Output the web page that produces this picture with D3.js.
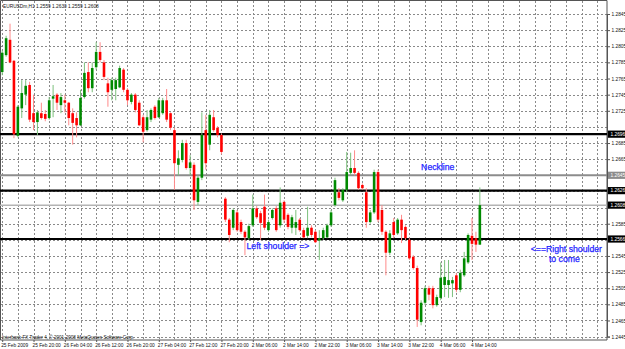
<!DOCTYPE html>
<html><head><meta charset="utf-8">
<script src="https://cdn.jsdelivr.net/npm/d3@7"></script>
<style>body{margin:0;background:#fff}svg{display:block}</style>
</head><body><svg id="c" width="625" height="349"></svg>
<script>
const symbolTitle = "EURUSDm,H1  1.2559 1.2630 1.2559 1.2608";
const copyrightText = "Interbank FX Trader 4, \u00A9 2001-2008 MetaQuotes Software Corp.";
const timeLabels = ["25 Feb 2009","25 Feb 20:00","26 Feb 04:00","26 Feb 12:00","26 Feb 20:00","27 Feb 04:00","27 Feb 12:00","27 Feb 20:00","2 Mar 06:00","2 Mar 14:00","2 Mar 22:00","3 Mar 06:00","3 Mar 14:00","3 Mar 22:00","4 Mar 06:00","4 Mar 14:00"];
const timeLabelBars = [0,8,16,24,32,40,48,56,64,72,80,88,96,104,112,120];
const priceTicks = [1.2845,1.2825,1.2805,1.2785,1.2765,1.2745,1.2725,1.2705,1.2685,1.2665,1.2645,1.2625,1.2605,1.2585,1.2565,1.2545,1.2525,1.2505,1.2485,1.2465,1.2445];
const opens = [1.2773,1.2794,1.2813,1.2787,1.2694,1.2728,1.2745,1.2757,1.2722,1.2711,
1.2722,1.2721,1.2716,1.2740,1.2745,1.2732,1.2738,1.2735,1.2722,1.2716,
1.2707,1.2742,1.2773,1.2753,1.2779,1.2798,1.2785,1.2759,1.2751,1.2752,
1.2754,1.2776,1.2751,1.2736,1.2745,1.2735,1.2717,1.2701,1.2714,1.2730,
1.2717,1.2722,1.2738,1.2722,1.2701,1.2658,1.2664,1.2685,1.2654,1.2658,
1.2612,1.2642,1.2701,1.2683,1.2717,1.2704,1.2695,1.2616,1.2590,1.2580,
1.2599,1.2587,1.2575,1.2567,1.2583,1.2604,1.2598,1.2606,1.2577,1.2592,
1.2604,1.2583,1.2612,1.2596,1.2580,1.2580,1.2590,1.2577,1.2570,1.2580,
1.2575,1.2564,1.2567,1.2568,1.2583,1.2608,1.2624,1.2614,1.2627,1.2648,
1.2654,1.2648,1.2633,1.2624,1.2587,1.2599,1.2649,1.2602,1.2575,1.2549,
1.2587,1.2573,1.2590,1.2581,1.2565,1.2544,1.2530,1.2463,1.2487,1.2505,
1.2505,1.2484,1.2493,1.2509,1.2509,1.2511,1.2521,1.2503,1.2521,1.2537,
1.2570,1.2567,1.2559];
const highs = [1.2800,1.2818,1.2833,1.2788,1.2732,1.2763,1.2763,1.2761,1.2745,1.2726,
1.2735,1.2726,1.2742,1.2757,1.2747,1.2747,1.2745,1.2736,1.2728,1.2723,
1.2751,1.2785,1.2785,1.2785,1.2810,1.2810,1.2788,1.2766,1.2766,1.2766,
1.2781,1.2778,1.2753,1.2747,1.2747,1.2738,1.2720,1.2726,1.2728,1.2732,
1.2741,1.2741,1.2752,1.2723,1.2704,1.2676,1.2689,1.2689,1.2670,1.2661,
1.2645,1.2723,1.2720,1.2726,1.2726,1.2706,1.2697,1.2618,1.2592,1.2604,
1.2602,1.2590,1.2577,1.2585,1.2621,1.2607,1.2601,1.2621,1.2590,1.2604,
1.2607,1.2630,1.2614,1.2598,1.2596,1.2602,1.2592,1.2580,1.2606,1.2583,
1.2577,1.2577,1.2580,1.2585,1.2602,1.2642,1.2629,1.2629,1.2674,1.2673,
1.2676,1.2650,1.2635,1.2629,1.2602,1.2652,1.2652,1.2608,1.2577,1.2577,
1.2592,1.2592,1.2596,1.2583,1.2567,1.2546,1.2533,1.2490,1.2508,1.2508,
1.2508,1.2497,1.2537,1.2540,1.2540,1.2519,1.2524,1.2528,1.2550,1.2573,
1.2592,1.2575,1.2630];
const lows = [1.2769,1.2792,1.2784,1.2691,1.2692,1.2716,1.2732,1.2711,1.2701,1.2695,
1.2714,1.2712,1.2714,1.2717,1.2726,1.2722,1.2723,1.2707,1.2683,1.2692,
1.2706,1.2740,1.2748,1.2748,1.2776,1.2785,1.2763,1.2730,1.2738,1.2738,
1.2753,1.2748,1.2732,1.2733,1.2723,1.2706,1.2686,1.2699,1.2711,1.2714,
1.2716,1.2720,1.2711,1.2701,1.2627,1.2645,1.2661,1.2652,1.2645,1.2602,
1.2608,1.2639,1.2652,1.2676,1.2699,1.2692,1.2671,1.2587,1.2562,1.2577,
1.2575,1.2572,1.2546,1.2565,1.2581,1.2591,1.2565,1.2577,1.2575,1.2590,
1.2575,1.2580,1.2586,1.2578,1.2573,1.2571,1.2575,1.2567,1.2567,1.2568,
1.2561,1.2540,1.2565,1.2567,1.2581,1.2606,1.2614,1.2612,1.2624,1.2645,
1.2645,1.2627,1.2627,1.2580,1.2585,1.2597,1.2587,1.2571,1.2521,1.2546,
1.2567,1.2571,1.2561,1.2565,1.2540,1.2528,1.2457,1.2459,1.2484,1.2490,
1.2480,1.2482,1.2490,1.2494,1.2493,1.2494,1.2500,1.2500,1.2519,1.2535,
1.2540,1.2550,1.2559];
const closes = [1.2797,1.2815,1.2785,1.2696,1.2730,1.2747,1.2756,1.2714,1.2711,1.2723,
1.2716,1.2715,1.2738,1.2743,1.2735,1.2742,1.2735,1.2716,1.2710,1.2707,
1.2741,1.2772,1.2753,1.2778,1.2798,1.2788,1.2767,1.2748,1.2763,1.2763,
1.2778,1.2751,1.2738,1.2745,1.2726,1.2707,1.2699,1.2717,1.2726,1.2716,
1.2738,1.2738,1.2714,1.2704,1.2660,1.2666,1.2685,1.2654,1.2661,1.2614,
1.2642,1.2695,1.2660,1.2720,1.2701,1.2695,1.2674,1.2590,1.2571,1.2602,
1.2577,1.2575,1.2568,1.2582,1.2604,1.2593,1.2586,1.2580,1.2587,1.2602,
1.2577,1.2611,1.2590,1.2581,1.2593,1.2587,1.2577,1.2568,1.2580,1.2571,
1.2562,1.2567,1.2577,1.2583,1.2599,1.2639,1.2617,1.2627,1.2649,1.2654,
1.2648,1.2629,1.2629,1.2587,1.2599,1.2649,1.2590,1.2575,1.2549,1.2573,
1.2571,1.2590,1.2577,1.2567,1.2542,1.2530,1.2466,1.2487,1.2505,1.2497,
1.2484,1.2494,1.2518,1.2519,1.2515,1.2515,1.2503,1.2524,1.2542,1.2571,
1.2560,1.2559,1.2608];
const blackLevels = [1.2696, 1.2626, 1.2566];
const grayLevels = [1.2645];
const bidLevel = 1.2608;
const notes = [
  {text: "Neckline", bar: 107, price: 1.2651, anchor: "start"},
  {text: "Left shoulder =>", bar: 62.4, price: 1.2554, anchor: "start"},
  {text: "<==Right shoulder", bar: 144.1, price: 1.2550, anchor: "middle"},
  {text: "to come", bar: 143.6, price: 1.2537, anchor: "middle"}
];

const svg = d3.select("#c");
const W = 625, H = 349, plotR = 607, plotB = 340;
const x = d3.scaleLinear().domain([0, 152]).range([2.2, 597.3]);
const y = d3.scaleLinear().domain([1.2445, 1.2845]).range([336.6, 14]);
const fmt = d3.format(".4f");
const smallFont = "Liberation Sans, Arial, sans-serif";

svg.append("rect").attr("width", W).attr("height", H).attr("fill", "#fff");

// grid
const grid = svg.append("g").attr("stroke", "#8a8a8a").attr("stroke-width", 1).attr("stroke-dasharray", "2,2");
grid.selectAll("line.h").data(priceTicks).join("line").attr("class","h")
  .attr("x1", 1).attr("x2", plotR).attr("y1", d => Math.round(y(d)) + 0.5).attr("y2", d => Math.round(y(d)) + 0.5);
grid.selectAll("line.v").data(d3.range(0, 153, 4)).join("line").attr("class","v")
  .attr("x1", d => Math.round(x(d)) + 0.5).attr("x2", d => Math.round(x(d)) + 0.5).attr("y1", 1).attr("y2", plotB);

// frame
svg.append("path").attr("d", `M0.5,${plotB}V0.5H${plotR}V${plotB}H0.5`).attr("fill","none").attr("stroke","#555").attr("stroke-width",1);

// horizontal level lines
svg.selectAll("line.gl").data(grayLevels).join("line").attr("class","gl")
  .attr("x1", 0).attr("x2", plotR).attr("y1", d => y(d)).attr("y2", d => y(d))
  .attr("stroke", "#8c8c8c").attr("stroke-width", 2);
svg.append("line").attr("x1", 0).attr("x2", plotR).attr("y1", y(bidLevel)).attr("y2", y(bidLevel))
  .attr("stroke", "#b4b4b4").attr("stroke-width", 1.5);
svg.selectAll("line.bl").data(blackLevels).join("line").attr("class","bl")
  .attr("x1", 0).attr("x2", plotR).attr("y1", d => y(d)).attr("y2", d => y(d))
  .attr("stroke", "#000").attr("stroke-width", 2.2);

// candles
const bars = d3.range(opens.length).map(i => ({i, o: opens[i], h: highs[i], l: lows[i], c: closes[i]}));
const cg = svg.append("g");
const bw = 2.6;
cg.selectAll("line.wick").data(bars).join("line").attr("class","wick")
  .attr("x1", d => x(d.i)).attr("x2", d => x(d.i))
  .attr("y1", d => y(d.h)).attr("y2", d => y(d.l))
  .attr("stroke", d => d.c >= d.o ? "#7cc07c" : "#ff8a8a").attr("stroke-width", 1);
cg.selectAll("rect.body").data(bars).join("rect").attr("class","body")
  .attr("x", d => x(d.i) - bw/2).attr("width", bw)
  .attr("y", d => y(Math.max(d.o, d.c)))
  .attr("height", d => Math.max(1, Math.abs(y(d.o) - y(d.c))))
  .attr("fill", d => d.c >= d.o ? "#008a00" : "#ff0000");

// boxes for level lines
const boxes = [
  ...blackLevels.map(v => ({v, fill: "#000"})),
  ...grayLevels.map(v => ({v, fill: "#8c8c8c"})),
  {v: bidLevel, fill: "#000"}
];

// price axis (labels hidden where a level box covers them)
const visibleTicks = priceTicks.filter(t => !boxes.some(b => Math.abs(y(b.v) - y(t)) < 7.5));
const ay = d3.axisRight(y).tickValues(visibleTicks).tickFormat(fmt).tickSize(3).tickPadding(1.5);
const gy = svg.append("g").attr("transform", `translate(${plotR},0)`).call(ay);
gy.select(".domain").attr("stroke", "#555");
gy.selectAll(".tick line").attr("stroke", "#555");
gy.selectAll(".tick text").attr("font-size", 4.8).attr("font-family", smallFont).attr("fill", "#111");

const bg = svg.append("g");
bg.selectAll("rect").data(boxes).join("rect")
  .attr("x", plotR + 1).attr("y", d => y(d.v) - 3.6).attr("width", W - plotR - 1).attr("height", 7.2)
  .attr("fill", d => d.fill);
bg.selectAll("text").data(boxes).join("text")
  .attr("x", plotR + 3.5).attr("y", d => y(d.v) + 1.8)
  .attr("font-size", 4.8).attr("font-family", smallFont).attr("fill", "#fff")
  .text(d => fmt(d.v));

// time axis
const ax = d3.axisBottom(x).tickValues(timeLabelBars).tickFormat((d, k) => timeLabels[k]).tickSize(2).tickPadding(1.5);
const gx = svg.append("g").attr("transform", `translate(0,${plotB})`).call(ax);
gx.select(".domain").remove();
gx.selectAll(".tick line").attr("stroke", "#555");
gx.selectAll(".tick text").attr("font-size", 4.8).attr("font-family", smallFont).attr("fill", "#111")
  .attr("text-anchor", "start").attr("dx", -1.5);

// title & copyright
svg.append("text").attr("x", 3).attr("y", 7.5).attr("font-size", 4.8).attr("font-family", smallFont).attr("fill", "#111").text(symbolTitle);
svg.append("text").attr("x", 2).attr("y", 338.5).attr("font-size", 4.6).attr("font-family", smallFont).attr("fill", "#111").text(copyrightText);

// annotations
svg.selectAll("text.note").data(notes).join("text").attr("class","note")
  .attr("x", d => x(d.bar)).attr("y", d => y(d.price))
  .attr("text-anchor", d => d.anchor)
  .attr("font-size", 8.7).attr("font-family", "Liberation Sans, Arial, sans-serif")
  .attr("stroke", "#1f1fff").attr("stroke-width", 0.25)
  .attr("fill", "#1f1fff").text(d => d.text);
</script>
</body></html>
